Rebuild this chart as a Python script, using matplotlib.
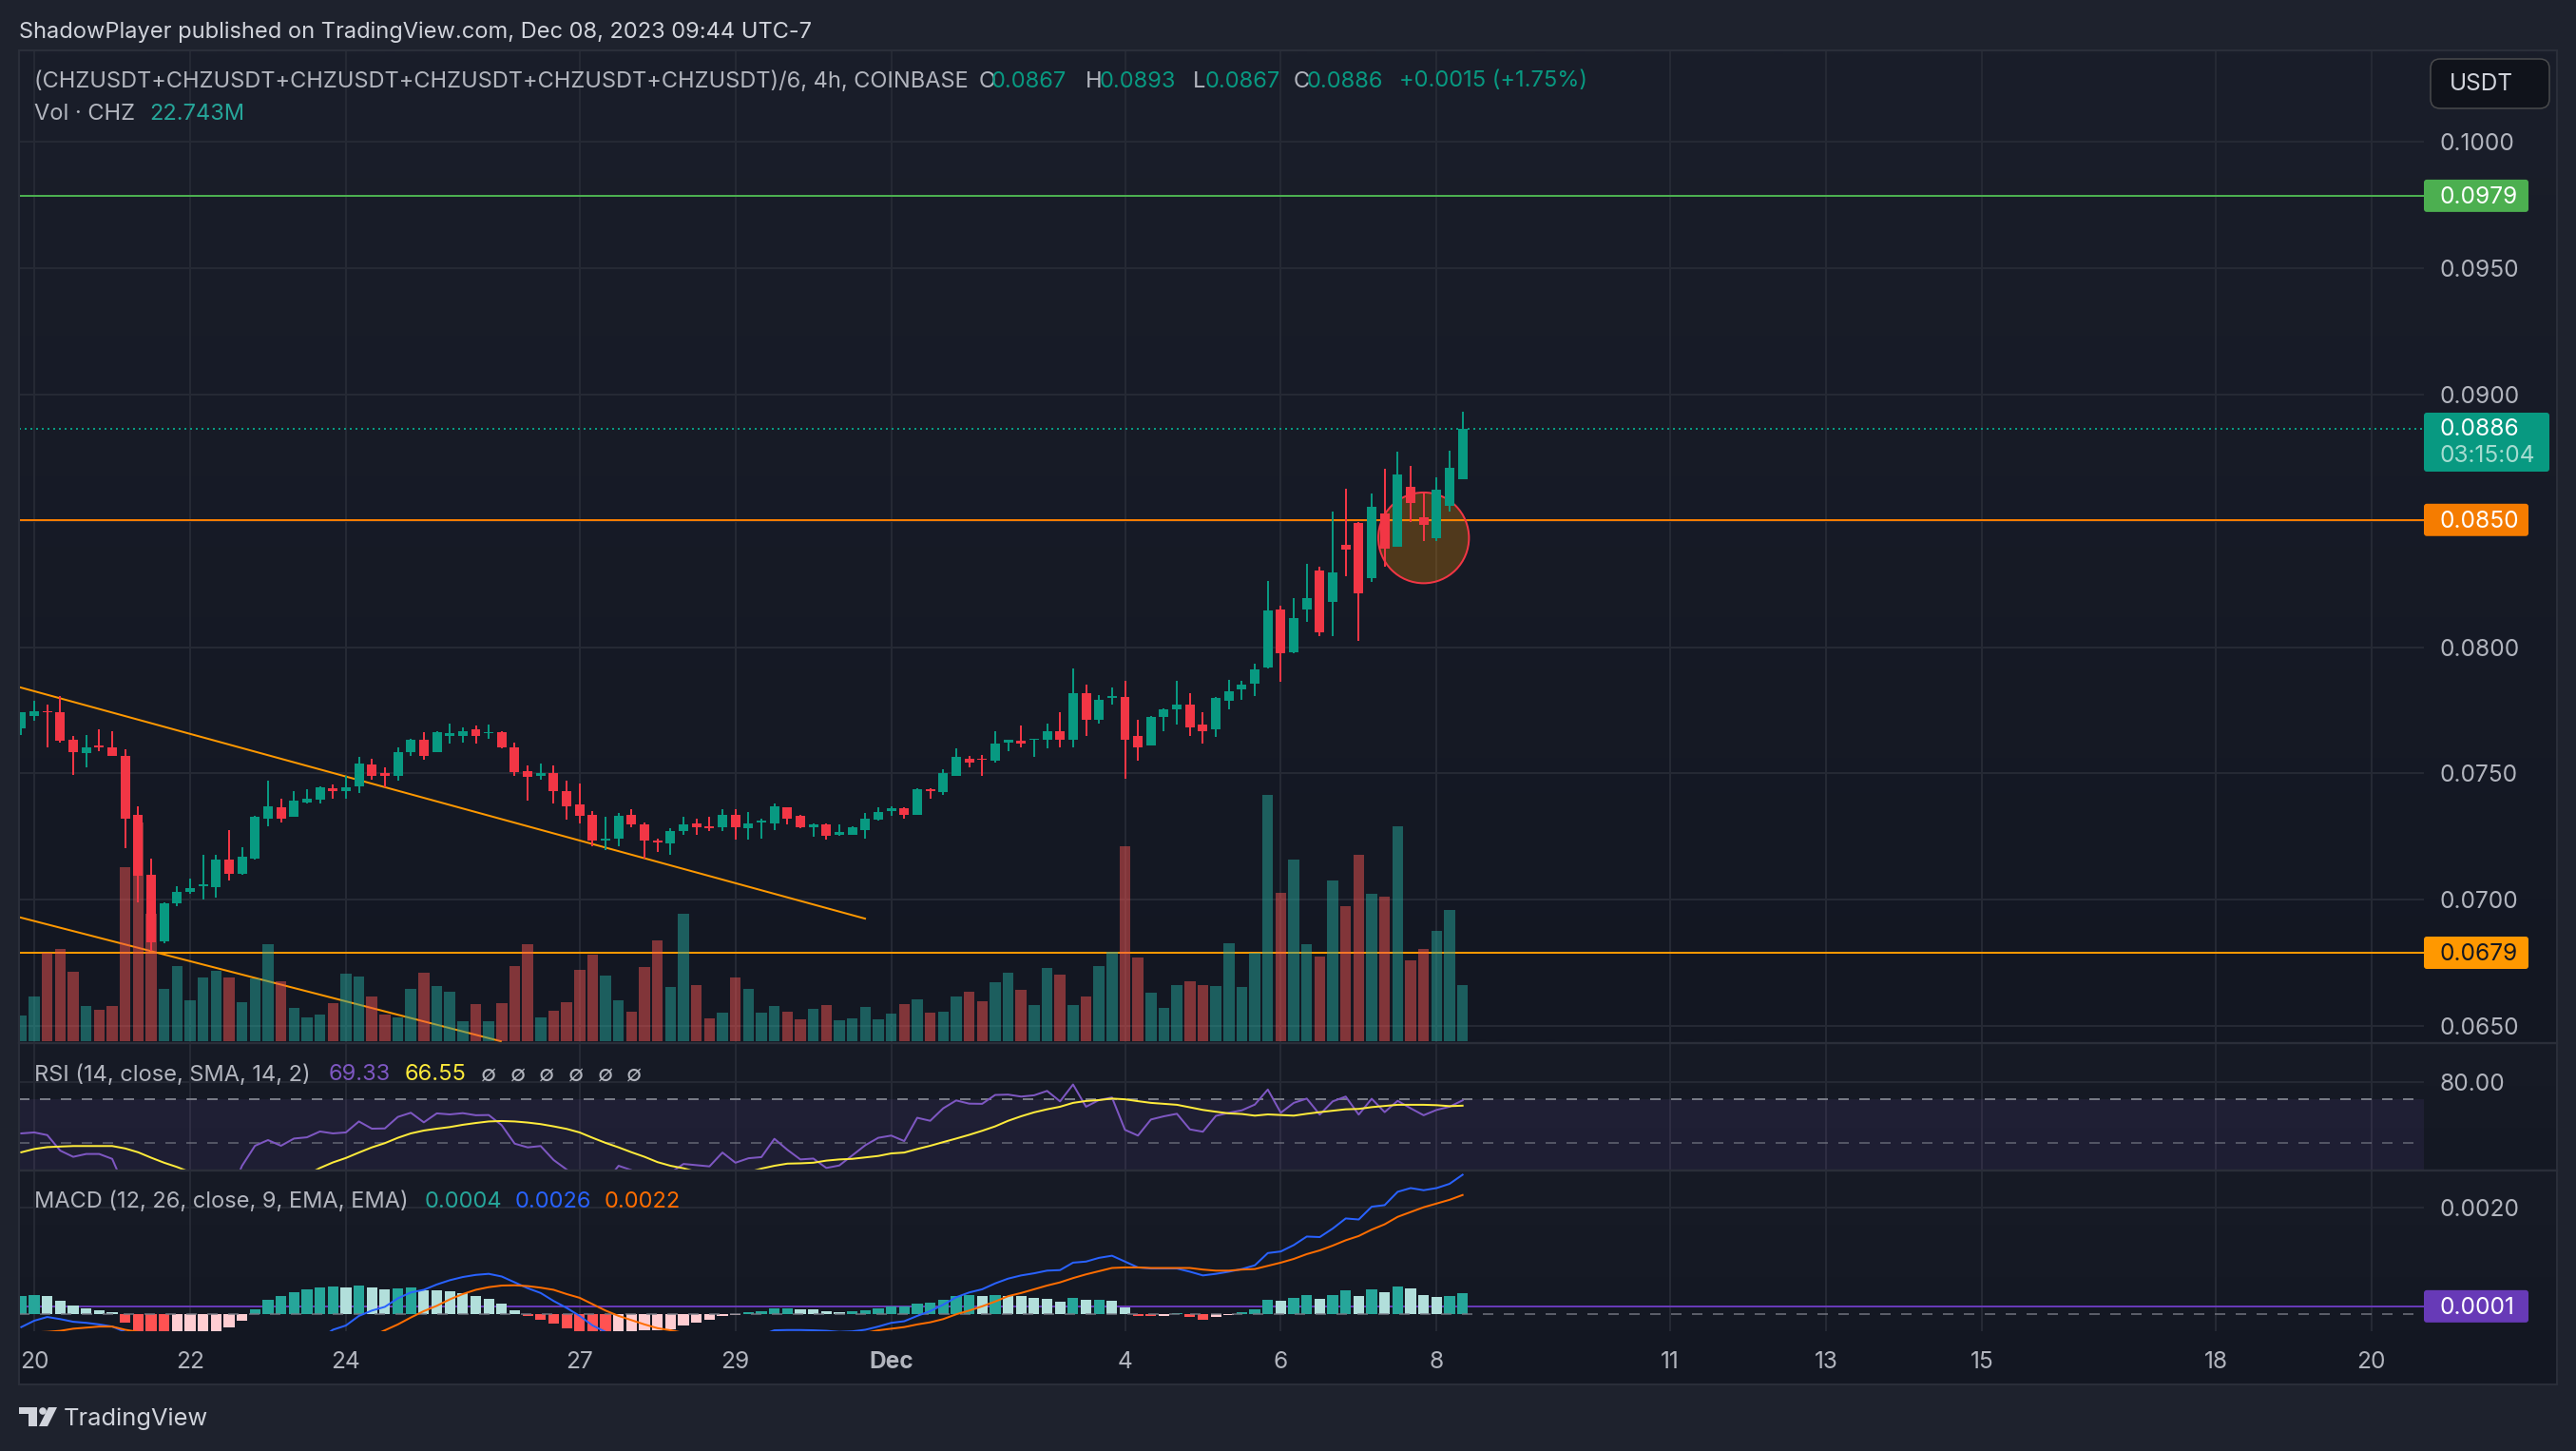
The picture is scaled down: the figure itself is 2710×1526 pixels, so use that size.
import numpy as np
import matplotlib
matplotlib.use("Agg")
import matplotlib.pyplot as plt
from matplotlib.patches import Ellipse, FancyBboxPatch, Rectangle, Polygon, Circle

plt.rcParams['font.family'] = ['Inter', 'DejaVu Sans']

# ---- OHLC in units of 1e-4 USDT, 4h bars ----
open_e4 = [768.0,772.9,774.8,774.4,763.2,757.9,760.9,760.2,757.1,733.5,709.8,683.5,698.5,703.0,705.3,704.9,715.8,710.5,716.5,732.0,
736.8,732.7,738.7,739.5,744.0,742.9,745.1,753.4,750.0,749.2,758.6,763.5,758.3,765.0,765.0,767.3,765.8,766.2,760.2,751.1,
749.2,750.0,743.2,737.6,733.8,723.3,724.4,733.5,729.7,723.3,722.2,727.1,730.1,729.3,728.6,733.5,728.2,730.5,730.1,736.8,
733.1,728.9,729.7,725.9,725.9,727.8,731.6,735.3,736.1,733.5,743.6,742.5,749.2,756.0,756.0,754.9,762.4,762.8,763.2,763.2,
766.9,763.2,781.6,771.4,779.7,780.1,764.7,760.9,772.2,775.2,777.4,769.2,767.3,778.9,783.1,785.7,792.1,815.0,798.1,815.0,
830.1,817.7,840.6,849.2,827.4,853.0,839.5,863.5,851.5,843.2,856.0,866.5]
high_e4 = [774.1,778.9,777.4,780.5,764.7,765.4,767.3,766.9,759.4,737.2,716.5,698.9,705.6,708.6,718.0,718.0,727.8,720.7,733.1,747.0,
740.2,743.2,743.6,745.1,745.5,749.2,756.4,756.0,752.6,760.2,763.9,766.2,766.9,769.9,768.4,768.8,769.2,766.9,762.4,753.0,
754.1,753.0,747.0,746.2,735.0,732.7,734.2,735.7,730.8,724.1,728.2,732.7,732.0,732.7,735.7,735.7,734.6,732.3,738.0,736.8,
733.8,730.1,730.1,729.7,729.3,734.2,736.5,737.2,736.8,744.0,744.0,751.5,759.8,757.1,757.5,766.9,763.5,768.8,763.9,769.9,
774.1,791.4,785.0,781.2,784.2,786.5,771.1,772.6,775.9,786.8,781.6,774.4,780.1,787.2,786.5,793.6,826.3,816.5,819.5,833.1,
831.6,853.7,862.8,849.6,860.9,870.7,877.4,871.8,861.6,867.3,877.8,893.2]
low_e4 = [765.2,770.7,760.2,762.4,749.6,752.6,759.0,756.8,720.3,698.9,679.7,682.7,697.7,702.3,700.0,700.8,707.5,709.8,715.8,729.3,
730.5,732.7,738.3,738.0,740.2,740.2,742.1,747.4,744.4,747.0,756.8,755.6,758.3,762.0,762.4,761.7,763.9,759.8,749.2,739.1,
747.7,738.3,731.6,730.1,721.4,719.9,721.4,728.6,716.5,718.8,718.0,725.6,725.6,727.4,727.1,723.7,723.7,724.4,727.8,729.7,
728.2,724.8,723.7,725.2,725.6,724.1,731.2,733.1,732.0,733.5,739.9,741.7,748.9,752.3,749.2,754.5,759.0,760.5,756.4,759.8,
760.2,760.5,764.7,769.9,777.4,748.1,754.9,760.9,766.9,769.2,764.7,762.0,764.3,775.2,779.3,780.5,791.7,786.1,797.7,809.8,
804.5,804.5,828.2,802.6,825.6,831.9,839.5,849.6,842.1,842.1,853.7,866.5]
close_e4 = [774.1,774.8,774.1,762.8,758.6,760.2,760.2,757.1,732.3,709.4,683.1,698.5,703.0,704.5,706.0,715.8,710.2,716.9,732.7,737.2,
732.3,739.1,739.9,744.7,742.9,744.4,753.8,748.9,749.2,758.6,763.5,757.1,766.2,765.8,766.9,765.0,766.5,760.2,750.4,748.5,
750.0,742.9,737.2,733.1,723.3,724.4,733.1,729.7,723.3,722.6,727.1,729.7,728.6,728.2,733.5,728.6,730.1,731.2,737.2,732.3,
728.6,729.7,725.2,726.7,728.6,732.0,734.6,736.1,733.5,743.6,742.9,750.0,756.4,754.5,755.3,762.0,763.2,761.7,763.9,766.9,
763.2,781.6,771.1,779.3,780.5,763.5,760.2,772.2,775.2,777.4,768.4,766.9,779.7,782.7,785.3,791.0,814.3,797.7,811.6,819.5,
806.0,829.7,838.7,821.4,855.6,839.1,868.4,857.1,848.5,862.4,871.0,886.4]

# volume in millions of CHZ
volume_m = [10.4,18.1,35.9,37.4,28.1,14.3,12.7,14.3,70.5,88.7,51.7,21.2,30.5,16.6,25.8,28.5,25.8,15.8,25.4,39.3,
24.3,13.5,9.6,10.8,15.4,27.4,26.2,18.1,10.8,9.6,21.2,27.8,22.4,20.0,8.1,15.0,8.1,15.4,30.5,39.3,
9.6,12.3,15.8,28.9,35.1,26.6,16.6,12.0,30.1,40.9,22.0,51.7,22.7,9.3,11.6,25.8,21.2,11.6,14.3,12.0,
8.9,13.1,14.6,8.5,9.3,13.9,8.9,11.2,15.0,17.0,11.6,12.0,18.1,20.0,16.2,23.9,27.8,20.8,14.6,29.7,
27.0,14.6,18.1,30.5,36.2,79.0,33.9,19.7,13.5,22.7,24.3,22.7,22.4,39.7,22.0,35.9,99.8,60.1,73.6,39.3,
34.3,65.1,54.7,75.6,59.8,58.6,87.1,32.8,37.4,44.7,53.2,22.743]

rsi = [53.7,54.1,53.0,47.0,44.8,45.8,45.8,44.1,35,25,22,26,28,29,30,34,33,41.8,48.8,51.0,
48.8,51.6,52.1,54.5,53.7,54.1,58.9,55.7,55.8,61.0,63.0,58.5,62.7,62.2,62.8,61.8,61.9,57.2,49.6,48.2,
48.7,43.7,40.6,37.7,35.9,36.8,41.8,40.4,37.7,37.7,39.6,42.4,42.0,41.6,46.3,42.8,44.3,44.7,51.5,47.3,
43.9,44.2,41.1,41.9,45.3,49.0,51.9,52.8,50.6,60.6,59.2,65.2,69.3,67.6,67.5,72.3,72.5,71.4,72.1,74.6,
68.8,78.4,66.0,69.5,70.9,55.2,52.8,59.8,61.3,62.5,55.4,54.4,61.5,63.0,64.2,67.1,75.4,63.0,68.0,70.3,
62.1,68.8,71.4,62.1,70.2,63.3,69.1,65.2,61.8,64.4,66.0,69.33]
rsi_sma = [46.4,47.6,48.3,48.5,48.7,48.7,48.7,48.7,47.8,46.4,44.5,42.8,41.4,39.8,38.8,37.8,36.8,36.0,35.5,35.8,
36.3,37.2,39.0,41.1,42.9,44.4,46.3,48.2,49.8,51.9,53.7,54.9,55.7,56.4,57.4,58.2,58.9,59.1,58.9,58.4,
57.7,56.7,55.6,54.1,51.9,49.9,48.2,46.4,44.8,43.0,41.8,41.0,39.9,39.4,39.0,39.2,39.8,40.9,41.8,42.5,
42.6,42.8,43.5,43.9,44.1,44.6,45.1,46.0,46.3,47.6,48.8,50.2,51.6,53.1,54.8,56.7,59.2,61.3,63.2,64.7,
66.0,68.0,69.0,69.5,70.3,69.9,68.9,68.0,67.5,67.0,65.7,64.4,63.5,62.7,62.4,61.6,62.2,61.9,61.6,62.5,
63.3,64.0,64.7,64.9,65.8,66.4,67.0,67.0,67.0,66.8,66.3,66.55]

# MACD values in units of 1e-4
macd_e4 = [-2.5,-1.3,-0.6,-1.0,-1.5,-1.7,-2.0,-2.4,-3.4,-5,-7,-9,-10,-10.5,-10.8,-10.8,-10.5,-10,-9.3,-8.5,
-7.6,-6.6,-5.6,-4.7,-3.0,-2.2,-0.4,0.6,1.3,2.9,4.0,4.5,5.5,6.3,6.9,7.3,7.5,7.0,5.9,4.8,
3.9,2.4,1.1,-0.4,-2.2,-3.4,-4.5,-5.3,-6,-6.7,-7,-7.2,-6.8,-6.3,-5.7,-5.2,-4.8,-4.0,-3.1,-3.05,
-3.05,-3.1,-3.2,-3.4,-3.3,-3.0,-2.4,-1.7,-1.4,-0.4,0.5,1.7,3.1,4.0,4.6,5.7,6.6,7.2,7.6,8.1,
8.2,9.6,9.8,10.5,10.9,9.8,8.7,8.5,8.5,8.5,7.9,7.2,7.5,7.9,8.4,9.1,11.4,11.7,12.9,14.5,
14.4,16.0,17.9,17.7,20.1,20.4,22.9,23.6,23.2,23.6,24.4,26.1]
signal_e4 = [-3.6,-3.5,-3.4,-3.2,-2.8,-2.6,-2.4,-2.4,-3.0,-3.4,-4,-4.6,-5.4,-6,-6.6,-7.1,-7.6,-8,-8.2,-8.3,
-8.2,-7.9,-7.5,-7,-6.4,-5.8,-5,-4.2,-3.1,-2.0,-0.7,0.5,1.5,2.7,3.7,4.5,5.0,5.3,5.35,5.2,
4.9,4.5,3.7,3.0,1.8,0.6,-0.4,-1.2,-2.0,-2.7,-3.1,-3.6,-4,-4.3,-4.5,-4.6,-4.7,-4.7,-4.7,-4.6,
-4.6,-4.4,-4.2,-4.1,-3.9,-3.6,-3.1,-2.8,-2.5,-2.0,-1.6,-1.0,-0.1,0.6,1.4,2.3,3.3,3.9,4.6,5.3,
5.9,6.7,7.4,8.0,8.6,8.7,8.7,8.6,8.6,8.6,8.6,8.3,8.1,8.1,8.3,8.4,9.0,9.6,10.3,11.2,
11.9,12.8,13.8,14.6,15.8,16.8,18.2,19.1,20.0,20.7,21.4,22.3]
hist_e4 = [3.3,3.5,3.3,2.4,1.5,1.0,0.65,0.3,-1.7,-4.0,-4.5,-5.0,-4.5,-4.2,-3.9,-3.3,-2.6,-1.3,0.8,2.6,
3.3,4.0,4.6,4.9,5.1,4.9,5.3,4.9,4.6,4.8,4.9,4.4,4.4,4.2,3.9,3.3,2.8,1.9,0.65,-0.4,
-1.1,-1.8,-2.7,-3.3,-3.4,-3.5,-3.3,-3.2,-3.15,-3.1,-2.9,-2.2,-1.7,-1.1,-0.4,-0.25,0.3,0.5,0.95,1.0,
0.8,0.8,0.5,0.3,0.5,0.65,1.0,1.35,1.4,1.9,2.1,2.6,3.3,3.5,3.3,3.5,3.3,3.3,3.0,2.8,
2.3,3.0,2.6,2.7,2.4,1.2,-0.4,-0.45,-0.4,0.2,-0.6,-1.1,-0.6,-0.25,0.3,0.8,2.6,2.4,3.0,3.5,
2.8,3.5,4.4,3.3,4.6,4.0,5.1,4.8,3.5,3.1,3.3,3.9]

# drawn levels and trendlines
level_prices = [0.09785, 0.08503, 0.06791]
level_colors = ['#4caf50', '#f57c00', '#ff9800']
last_price = 0.08864
trend1_x, trend1_p = [-0.18, 65.05], [0.07842, 0.06925]
trend2_x, trend2_p = [-0.18, 37.0], [0.06932, 0.06440]

# axes labels
price_ticks = [0.065, 0.070, 0.075, 0.080, 0.085, 0.090, 0.095, 0.100]
time_tick_bars = [1, 13, 25, 43, 55, 67, 85, 97, 109, 127, 139, 151, 169, 181]
time_tick_labels = ['20', '22', '24', '27', '29', 'Dec', '4', '6', '8', '11', '13', '15', '18', '20']

# ---- style ----
W, H = 2710, 1526
OUTER = '#1e222d'
GRID = '#252934'
BORDER = '#2a2e39'
TXT = '#b2b5be'
UP, DN = '#089981', '#f23645'
px = 0.72  # 1 pixel in points
FS = 17.0
AXFS = 17.6

fig = plt.figure(figsize=(W / 100, H / 100), dpi=100, facecolor=OUTER)

def axes_px(x0, y0, x1, y1, **kw):
    return fig.add_axes([x0 / W, 1 - y1 / H, (x1 - x0) / W, (y1 - y0) / H], **kw)

# backgrounds with per-pane gradients
bg = axes_px(0, 0, W, H, zorder=-5)
bg.axis('off')
for (y0, y1, top_c, bot_c) in [(53, 1097, (26, 30, 42), (19, 23, 34)),
                               (1097, 1231, (23, 27, 38), (20, 24, 35)),
                               (1231, 1456, (23, 27, 38), (19, 23, 34))]:
    t = np.linspace(0, 1, 128)[:, None, None]
    grad = (np.array(top_c)[None, None, :] * (1 - t) + np.array(bot_c)[None, None, :] * t) / 255
    bg.imshow(grad, extent=(20, 2690, y1, y0), aspect='auto', interpolation='bilinear')
bg.set_xlim(0, W)
bg.set_ylim(H, 0)

XL = ((20 - 22.4) / 13.66, (2550 - 22.4) / 13.66)
bars = np.arange(len(close_e4))
o, h, l, c = [np.array(a) * 1e-4 for a in (open_e4, high_e4, low_e4, close_e4)]
up = c >= o

def style(ax):
    ax.set_facecolor('none')
    ax.set_xlim(*XL)
    for s in ax.spines.values():
        s.set_visible(False)
    ax.yaxis.tick_right()
    ax.tick_params(axis='both', length=0, labelsize=AXFS, labelcolor=TXT, pad=12.2)
    ax.tick_params(axis='y', which='minor', length=0, labelright=False)
    ax.set_axisbelow(True)

# --- main pane: 3 stacked axes (lines < volume < candles) ---
ax_back = axes_px(20, 53, 2550, 1097, zorder=1)
style(ax_back)
ax_back.set_ylim(0.064337, 0.10360)
ax_back.set_yticks(price_ticks)
ax_back.set_yticklabels([f'{p:.4f}' for p in price_ticks])
ax_back.set_xticks(time_tick_bars)
ax_back.tick_params(axis='x', labelbottom=False)
ax_back.grid(True, color=GRID, lw=2 * px)
for p, col in zip(level_prices, level_colors):
    ax_back.axhline(p, color=col, lw=2 * px, zorder=3)
ax_back.axhline(last_price, color=UP, lw=2 * px, ls=(0, (1, 2)), zorder=3)
ax_back.plot(trend1_x, trend1_p, color='#ff9800', lw=2 * px, zorder=3, solid_capstyle='butt')
ax_back.plot(trend2_x, trend2_p, color='#ff9800', lw=2 * px, zorder=3, solid_capstyle='butt')

ax_vol = axes_px(20, 53, 2550, 1097, zorder=2)
style(ax_vol)
ax_vol.set_ylim(-0.77, 401.7)
ax_vol.set_xticks([]); ax_vol.set_yticks([])
ax_vol.bar(bars, volume_m, width=0.84,
           color=[(38/255, 166/255, 154/255, 0.5) if u else (239/255, 83/255, 80/255, 0.5) for u in up],
           linewidth=0)

ax_c = axes_px(20, 53, 2550, 1097, zorder=3)
style(ax_c)
ax_c.set_ylim(0.064337, 0.10360)
ax_c.set_xticks([]); ax_c.set_yticks([])
ax_c.add_patch(Ellipse((108.0, 0.08432), 6.98, 0.003588, facecolor=(1, 0.596, 0, 0.25),
                       edgecolor=DN, lw=2 * px, zorder=1))
cols = [UP if u else DN for u in up]
ax_c.vlines(bars, l, h, colors=cols, lw=2 * px, zorder=2)
ax_c.bar(bars, np.abs(c - o), bottom=np.minimum(o, c), width=0.73, color=cols, linewidth=0, zorder=3)

# --- RSI pane ---
ax_r = axes_px(20, 1097, 2550, 1231, zorder=2)
style(ax_r)
ax_r.set_yscale('log')
ax_r.set_ylim(40.3, 108)
ax_r.yaxis.set_minor_locator(matplotlib.ticker.NullLocator())
ax_r.set_yticks([80])
ax_r.set_yticklabels(['80.00'])
ax_r.set_xticks(time_tick_bars)
ax_r.tick_params(axis='x', labelbottom=False)
ax_r.grid(True, color=GRID, lw=2 * px)
ax_r.axhspan(30, 70, color='#7e57c2', alpha=0.1, lw=0)
ax_r.axhline(70, color='#787b86', lw=2 * px, ls=(0, (5.5, 5.5)))
ax_r.axhline(50, color='#787b86', alpha=0.6, lw=2 * px, ls=(0, (5.5, 5.5)))
ax_r.plot(bars, rsi, color='#7e57c2', lw=2 * px)
ax_r.plot(bars, rsi_sma, color='#ffeb3b', lw=2 * px)

# --- MACD pane ---
ax_m = axes_px(20, 1231, 2550, 1400, zorder=2)
style(ax_m)
ax_m.set_ylim(-0.000327, 0.00269)
ax_m.set_yticks([0.002])
ax_m.set_yticklabels(['0.0020'])
ax_m.set_xticks(time_tick_bars)
ax_m.set_xticklabels(time_tick_labels)
ax_m.tick_params(axis='x', pad=15)
ax_m.get_xticklabels()[5].set_fontweight('bold')
ax_m.grid(True, color=GRID, lw=2 * px)
ax_m.axhline(0.00014, color='#673ab7', lw=2 * px, zorder=1)
hist = np.array(hist_e4) * 1e-4
hcols = []
for i, v in enumerate(hist):
    rising = i == 0 or v > hist[i - 1]
    if v >= 0:
        hcols.append('#26a69a' if rising else '#b2dfdb')
    else:
        hcols.append('#ffcdd2' if rising else '#ff5252')
ax_m.bar(bars, hist, width=0.82, color=hcols, linewidth=0, zorder=2)
ax_m.axhline(0, color='#787b86', alpha=0.7, lw=2 * px, ls=(0, (5.5, 5.5)), zorder=3)
ax_m.plot(bars, np.array(macd_e4) * 1e-4, color='#2962ff', lw=2 * px, zorder=4)
ax_m.plot(bars, np.array(signal_e4) * 1e-4, color='#ff6d00', lw=2 * px, zorder=4)

# --- chrome overlay in pixel coordinates ---
ov = axes_px(0, 0, W, H, zorder=10)
ov.set_facecolor('none')
ov.axis('off')
ov.set_xlim(0, W)
ov.set_ylim(H, 0)

ov.add_patch(Rectangle((20, 53), 2670, 1403, fill=False, ec=BORDER, lw=2 * px))
for y in (1097, 1231):
    ov.plot([20, 2690], [y, y], color=BORDER, lw=2.4 * px)

DY = 2.5

def txt(x, y, s, color=TXT, size=FS, **kw):
    kw.setdefault('ha', 'left')
    kw.setdefault('va', 'center')
    ov.text(x, y + DY, s, color=color, fontsize=size, **kw)

txt(20, 31, 'ShadowPlayer published on TradingView.com, Dec 08, 2023 09:44 UTC-7', color='#d1d4dc')
txt(36.5, 83, '(CHZUSDT+CHZUSDT+CHZUSDT+CHZUSDT+CHZUSDT+CHZUSDT)/6, 4h, COINBASE')
for x, s, col in [(1030, 'O', TXT), (1043, '0.0867', UP), (1142, 'H', TXT), (1157, '0.0893', UP),
                  (1255, 'L', TXT), (1268, '0.0867', UP), (1361, 'C', TXT), (1375, '0.0886', UP),
                  (1472, '+0.0015 (+1.75%)', UP)]:
    txt(x, 83, s, color=col)
txt(36.5, 117, 'Vol · CHZ')
txt(157, 117, '22.743M', color='#26a69a')
txt(36.5, 1128, 'RSI (14, close, SMA, 14, 2)')
txt(346, 1128, '69.33', color='#7e57c2')
txt(426, 1128, '66.55', color='#ffeb3b')
for x in (506, 537, 567, 598, 629, 659):
    txt(x, 1128, '∅')
txt(36.5, 1261, 'MACD (12, 26, close, 9, EMA, EMA)')
txt(447, 1261, '0.0004', color='#26a69a')
txt(542, 1261, '0.0026', color='#2962ff')
txt(636, 1261, '0.0022', color='#ff6d00')

# price tags
def y_of(ax, v):
    return H - ax.transData.transform((0, v))[1]

def tag(ax, v, s, fc, tc, x1=2660, half=17):
    y = y_of(ax, v)
    ov.add_patch(FancyBboxPatch((2550, y - half), x1 - 2550, 2 * half,
                                boxstyle='round,pad=0,rounding_size=3', fc=fc, ec='none'))
    txt(2567, y - 1, s, color=tc, size=AXFS)

tag(ax_back, level_prices[0], '0.0979', '#4caf50', '#ffffff')
tag(ax_back, level_prices[1], '0.0850', '#f57c00', '#ffffff')
tag(ax_back, level_prices[2], '0.0679', '#ff9800', '#131722')
tag(ax_m, 0.00014, '0.0001', '#673ab7', '#ffffff')
ov.add_patch(FancyBboxPatch((2550, 434), 132, 62, boxstyle='round,pad=0,rounding_size=3', fc=UP, ec='none'))
txt(2567, 449, '0.0886', color='#ffffff', size=AXFS)
txt(2567, 477, '03:15:04', color='#a5dcd0', size=AXFS)

# currency button
ov.add_patch(FancyBboxPatch((2557, 62), 125, 52, boxstyle='round,pad=0,rounding_size=10',
                            fc='#10131b', ec='#4a4b4d', lw=1.5 * px))
txt(2577, 86, 'USDT', color='#d1d4dc', size=AXFS)

# TradingView logo
LOGO = '#d1d4dc'
ov.add_patch(Rectangle((20, 1480), 19, 7, fc=LOGO, ec='none'))
ov.add_patch(Rectangle((30, 1480), 9, 20, fc=LOGO, ec='none'))
ov.add_patch(Circle((45, 1484), 3.8, fc=LOGO, ec='none'))
ov.add_patch(Polygon([(51, 1480), (60, 1480), (50, 1500), (41, 1500)], closed=True, fc=LOGO, ec='none'))
txt(67, 1490, 'TradingView', color='#d1d4dc', size=18.3)

fig.savefig('out.png', dpi=100, facecolor=OUTER)
